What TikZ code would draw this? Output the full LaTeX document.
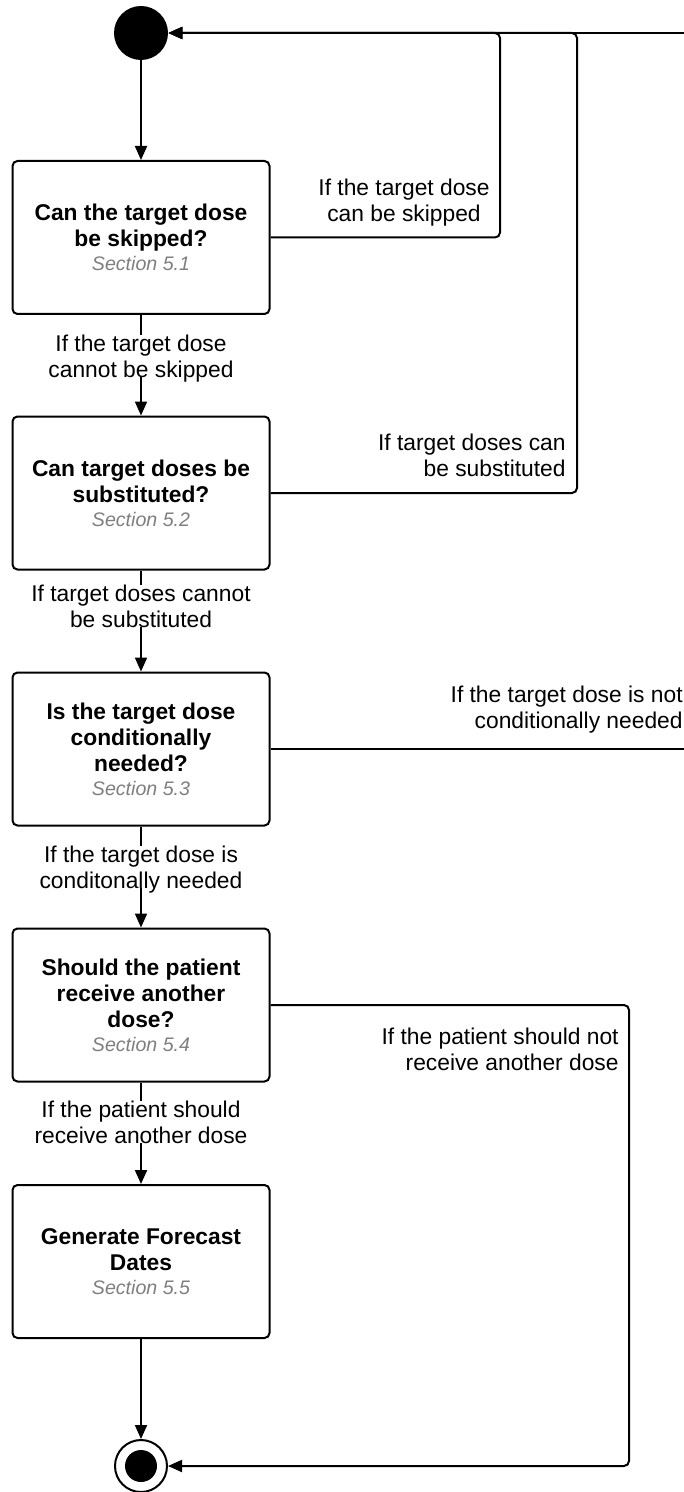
\documentclass[tikz,border=0pt]{standalone}
\usepackage{fontspec}
\setmainfont{Liberation Sans}
\usetikzlibrary{arrows.meta}
\definecolor{secgray}{HTML}{7F7F7F}
\tikzset{
  stepbox/.style={draw, line width=1pt, rounded corners=2.5pt, fill=white,
    minimum width=128.5pt, minimum height=76.5pt, inner sep=0pt, align=center,
    font=\fontsize{11.4}{13}\selectfont\bfseries},
  cond/.style={inner sep=0pt, fill=white, text depth=0pt, font=\fontsize{11.4}{13}\selectfont},
  flow/.style={line width=1pt, rounded corners=2.5pt, -{Triangle[length=7pt,width=6pt]}},
  link/.style={line width=1pt, rounded corners=2.5pt},
}
\newcommand{\sect}[1]{\\[-1pt]{\fontsize{9.8}{12}\selectfont\mdseries\itshape\color{secgray}Section #1}}
\begin{document}
\begin{tikzpicture}[x=0.5pt, y=-0.5pt]
    \useasboundingbox (0,0) rectangle (684,1492);

    % start and end
    \node[circle, fill=black, minimum size=27pt, inner sep=0pt] (s0) at (141,33) {};
    \node[circle, draw, line width=1pt, fill=white, minimum size=26pt, inner sep=0pt] (e0) at (141,1466) {};
    \node[circle, fill=black, minimum size=16pt, inner sep=0pt] (e1) at (e0) {};

    % decision boxes
    \foreach \i/\y/\t in {
        1/237.5/{Can the target dose\\be skipped?},
        2/493/{Can target doses be\\substituted?},
        3/749/{Is the target dose\\conditionally\\needed?},
        4/1005/{Should the patient\\receive another\\dose?},
        5/1261.5/{Generate Forecast\\Dates}}{
      \node[stepbox] (b\i) at (141,\y) {\t\sect{5.\i}};
    }

    \coordinate (j1) at (500,33);
    \coordinate (j2) at (577,33);
    \coordinate (t0) at (684,33);
    \coordinate (t3) at (684,749);
    \coordinate (j4) at (629,1466);

    % main line
    \draw[flow] (s0) -- (b1);
    \draw[flow] (b1) -- (b2);
    \draw[flow] (b2) -- (b3);
    \draw[flow] (b3) -- (b4);
    \draw[flow] (b4) -- (b5);
    \draw[flow] (b5) -- (e0);

    % back to start
    \draw[flow] (t0) -- (s0);
    \draw[flow] (b1.east) -| (j1) -- (s0);
    \draw[flow] (b2.east) -| (j2) -- (s0);
    \draw[link] (b3.east) -- (t3);
    \draw[flow] (b4.east) -| (j4) -- (e0);

    % labels
    \node[cond, align=center] (l1) at (141,356) {If the target dose\\cannot be skipped};
    \node[cond, align=center] (l2) at (141,606) {If target doses cannot\\be substituted};
    \node[cond, align=center] (l3) at (141,867) {If the target dose is\\conditonally needed};
    \node[cond, align=center] (l4) at (141,1122) {If the patient should\\receive another dose};
    \node[cond, align=center] (r1) at (404,200) {If the target dose\\can be skipped};
    \node[cond, align=right, anchor=east] (r2) at (566,455) {If target doses can\\be substituted};
    \node[cond, align=right, anchor=east] (r3) at (683,707) {If the target dose is not\\conditionally needed};
    \node[cond, align=right, anchor=east] (r4) at (619,1049) {If the patient should not\\receive another dose};
  \end{tikzpicture}
\end{document}
